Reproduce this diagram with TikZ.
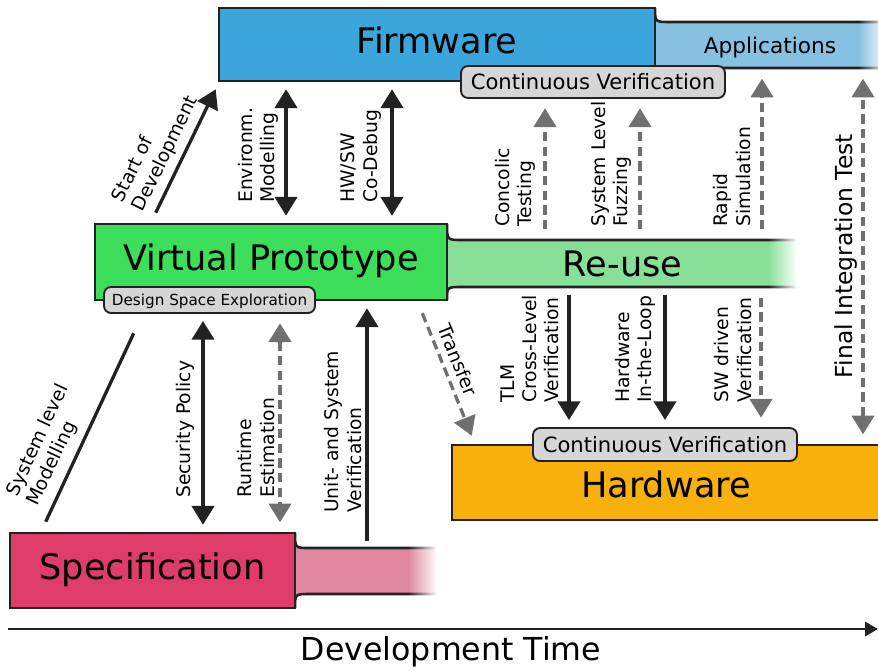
\documentclass[tikz,border=0pt]{standalone}
\usepackage{fontspec}
\setmainfont{DejaVu Sans}
\usetikzlibrary{arrows.meta,fit,fadings}

\definecolor{fwblue}{HTML}{3AA6DC}
\definecolor{appblue}{HTML}{86C1E1}
\definecolor{vpgreen}{HTML}{3CDE5A}
\definecolor{reusegreen}{HTML}{88DF98}
\definecolor{hworange}{HTML}{F7B00C}
\definecolor{specred}{HTML}{DE3C6B}
\definecolor{specpink}{HTML}{E088A0}
\definecolor{pillgrey}{HTML}{D6D6D6}
\definecolor{ink}{HTML}{222222}
\definecolor{dashgrey}{HTML}{707070}

\tikzfading[name=fade to white, left color=transparent!100, right color=transparent!0]

\tikzset{
  phase/.style={draw=ink, line width=2.2pt, inner sep=0pt},
  phasetext/.style={inner sep=0pt, text height=22pt, text depth=7pt, font=\fontsize{30}{36}\selectfont},
  pill/.style={draw=ink, fill=pillgrey, line width=1.6pt, rounded corners=6pt, inner sep=0pt},
  pilltext/.style={inner sep=0pt, text height=13pt, text depth=0pt, font=\fontsize{18}{21}\selectfont},
  lbl/.style={align=left, inner sep=0pt, font=\fontsize{16}{19}\selectfont},
  vlbl/.style={lbl, rotate=90},
  oneway/.style={draw=ink, line width=2.8pt, ->, shorten <=6pt, shorten >=6pt},
  twoway/.style={oneway, <->},
  hint/.style={draw=dashgrey, line width=2.8pt, dash pattern=on 8pt off 4.5pt, ->, shorten <=8pt, shorten >=8pt},
  hinttwo/.style={hint, <->},
}

\begin{document}
\begin{tikzpicture}[x=0.03cm, y=-0.03cm, >={Triangle[width=19pt,length=16pt]}]
\clip (0,0) rectangle (878,670);

% tails running out of the phase boxes
\foreach \bx/\by/\bY/\ty/\tY/\ex/\col in {655/8/81/22/68/886/appblue, 447/224/300/240/287/796/reusegreen, 295/533/608/548/594/436/specpink}{
  \fill[\col] (\bx,\by) .. controls (\bx,\ty) .. (\bx+15,\ty) -- (\ex,\ty) -- (\ex,\tY) -- (\bx+15,\tY) .. controls (\bx,\tY) .. (\bx,\bY) -- cycle;
  \draw[ink, line width=2.2pt] (\bx,\by) .. controls (\bx,\ty) .. (\bx+15,\ty) -- (\ex,\ty);
  \draw[ink, line width=2.2pt] (\bx,\bY) .. controls (\bx,\tY) .. (\bx+15,\tY) -- (\ex,\tY);
  \fill[white, path fading=fade to white] (\ex-28,\ty-4) rectangle (\ex+1,\tY+4);
}

% phases
\node[phase, fill=fwblue, fit={(219,8) (655,81)}, label={[phasetext]center:Firmware}] (fw) {};
\node[phase, fill=vpgreen, fit={(95,224) (447,300)}, label={[phasetext]center:Virtual Prototype}] (vp) {};
\node[phase, fill=hworange, fit={(452,445) (880,520)}, label={[phasetext, text depth=0pt, yshift=-2pt]center:Hardware}] (hw) {};
\node[phase, fill=specred, fit={(10,533) (295,608)}, label={[phasetext]center:Specification}] (spec) {};
\node[phase, draw=none, fit={(662,22) (878,68)},
  label={[phasetext, text height=14pt, text depth=0pt, font=\fontsize{18.5}{22}\selectfont]center:Applications}] (app) {};
\node[phase, draw=none, fit={(455,240) (790,287)}, label={[phasetext, text depth=0pt]center:Re-use}] (reuse) {};
\coordinate (stail) at (367,548);

% verification pills
\node[pill, fit={(461,66) (725,98)}, label={[pilltext]center:Continuous Verification}] (fwcv) {};
\node[pill, fit={(533,428) (797,461)}, label={[pilltext]center:Continuous Verification}] (hwcv) {};
\node[pill, fit={(104,287) (315,313)},
  label={[pilltext, text height=9.5pt, font=\fontsize{13}{15}\selectfont]center:Design Space Exploration}] (dse) {};

% columns of the vertical connectors
\foreach \n/\x in {env/286, cod/392, conc/545, fuzz/640, rapid/762, final/863, tlm/569, hil/665, swd/761, sec/203, rte/280}
  \coordinate (x-\n) at (\x,0);

\draw[twoway] (fw.south -| x-env) -- (vp.north -| x-env);
\draw[twoway] (fw.south -| x-cod) -- (vp.north -| x-cod);
\draw[hint] (reuse.north -| x-conc) -- (fwcv.south -| x-conc);
\draw[hint] (reuse.north -| x-fuzz) -- (fwcv.south -| x-fuzz);
\draw[hint] (reuse.north -| x-rapid) -- (app.south -| x-rapid);
\draw[hinttwo] (hw.north -| x-final) -- (app.south -| x-final);
\draw[oneway] (reuse.south -| x-tlm) -- (hwcv.north -| x-tlm);
\draw[oneway] (reuse.south -| x-hil) -- (hwcv.north -| x-hil);
\draw[hint] (reuse.south -| x-swd) -- (hwcv.north -| x-swd);
\draw[twoway] (dse.south -| x-sec) -- (spec.north -| x-sec);
\draw[hinttwo] (dse.south -| x-rte) -- (spec.north -| x-rte);
\draw[oneway] (stail) -- (vp.south -| stail);
\draw[oneway, shorten <=0pt, shorten >=0pt] ([shift={(62,-10)}]vp.north west) -- ([shift={(-2,7)}]fw.south west);
\draw[ink, line width=2.8pt] ([shift={(40,32)}]vp.south west) -- ([shift={(37,-10)}]spec.north west);
\draw[hint, shorten <=0pt, shorten >=0pt] ([shift={(-26,12)}]vp.south east) -- ([shift={(21,-8)}]hw.north west);

% connector labels
\node[lbl, rotate=64, anchor=west] (l-start) at (128,206) {Start of\\Development};
\node[vlbl, anchor=west] (l-env) at (258,203) {Environm.\\Modelling};
\node[vlbl, anchor=west] (l-cod) at (361,203) {HW/SW\\Co-Debug};
\node[vlbl, anchor=west] (l-conc) at (515,227) {Concolic\\Testing};
\node[vlbl, anchor=west] (l-fuzz) at (611,227) {System Level\\Fuzzing};
\node[vlbl, anchor=west] (l-rapid) at (732,227) {Rapid\\Simulation};
\node[vlbl, font=\fontsize{20}{24}\selectfont] (l-final) at (846,256) {Final Integration Test};
\node[vlbl, anchor=west] (l-tlm) at (530,403) {TLM\\Cross-Level\\Verification};
\node[vlbl, anchor=west] (l-hil) at (635,403) {Hardware\\In-the-Loop};
\node[vlbl, anchor=west] (l-swd) at (733,403) {SW driven\\Verification};
\node[lbl, rotate=-68] (l-transfer) at (458,360) {Transfer};
\node[lbl, rotate=65, anchor=west] (l-sysmod) at (23,500) {System level\\Modelling};
\node[vlbl, anchor=west] (l-sec) at (185,498) {Security Policy};
\node[vlbl, anchor=west] (l-rte) at (256,498) {Runtime\\Estimation};
\node[vlbl, anchor=west] (l-unit) at (343,513) {Unit- and System\\Verification};

% time axis
\coordinate (t0) at (8,629);
\coordinate (t1) at (878,629);
\draw[ink, line width=2.4pt, -{Triangle[width=12pt,length=11pt]}] (t0) -- (t1);
\node[font=\fontsize{27}{32}\selectfont] (devtime) at (451,652) {Development Time};
\end{tikzpicture}
\end{document}
